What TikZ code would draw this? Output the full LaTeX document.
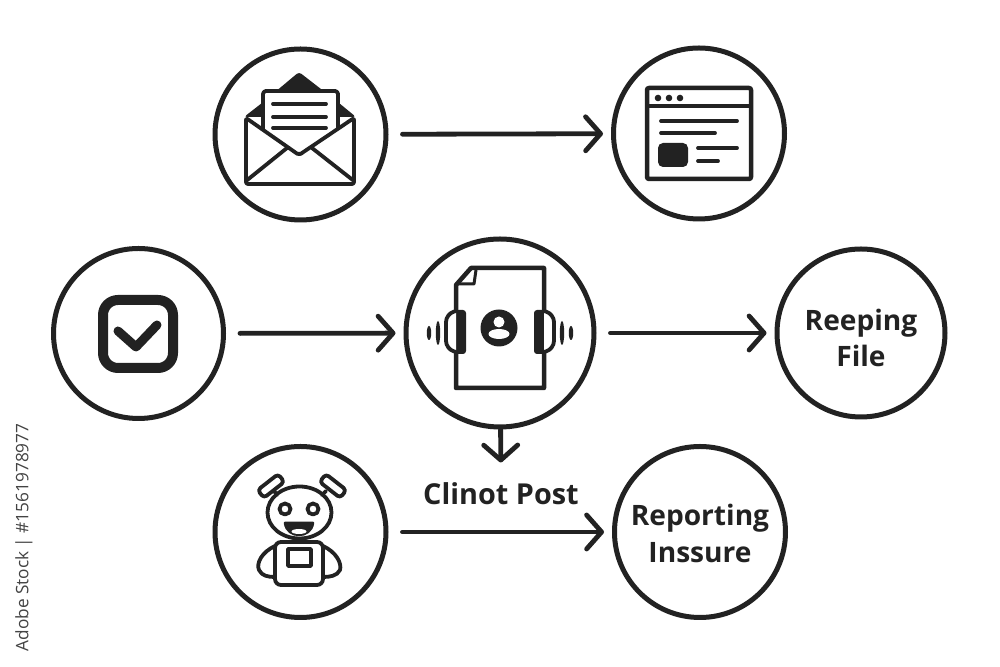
\documentclass[tikz,border=0pt]{standalone}
\usepackage{fontspec}
\setmainfont{Open Sans}
\usetikzlibrary{arrows.meta,positioning,shapes}
\definecolor{ink}{HTML}{222222}
\tikzset{
  stage/.style={circle,draw=ink,line width=0.5mm,fill=white,inner sep=0pt,text=ink,align=center,
    font=\fontsize{8}{10.4}\selectfont\bfseries},
  flow/.style={-{Straight Barb[length=1.5mm,width=3.4mm,round]},draw=ink,line width=0.48mm,line cap=round},
  thin line/.style={draw=ink,line width=0.38mm,line cap=round,line join=round}
}
\begin{document}
\begin{tikzpicture}[x=0.1mm,y=-0.1mm]
  \useasboundingbox[fill=white] (0,0) rectangle (1000,667);

  % Stages
  \node[stage,minimum size=17.1mm] (mail) at (300.5,134.5) {};
  \node[stage,minimum size=17.1mm] (page) at (699,133.5) {};
  \node[stage,minimum size=17mm] (check) at (138.5,333.5) {};
  \node[stage,minimum size=18.8mm] (file) at (500,333) {};
  \node[stage,minimum size=16.8mm] (keep) at (861,333) {\rule{0pt}{9pt}Reeping\\File};
  \node[stage,minimum size=17.1mm] (robot) at (300.5,532) {};
  \node[stage,minimum size=17.1mm] (report) at (700,532) {\rule{0pt}{6.8pt}Reporting\\Inssure};
  \node[text=ink,font=\fontsize{8.2}{10}\selectfont\bfseries] (post) at (501,494) {Clinot Post};

  % Connectors
  \draw[flow,shorten <=1.4mm,shorten >=0.8mm] (mail) -- (page);
  \draw[flow,shorten <=1.4mm,shorten >=0.8mm] (check) -- (file);
  \draw[flow,shorten <=1.4mm,shorten >=0.8mm] (file) -- (keep);
  \draw[flow,shorten <=1.4mm,shorten >=0.8mm] (robot) -- (report);
  \draw[flow,shorten >=0.8mm] (file) -- (post);

  % Envelope
  \fill[ink,rounded corners=0.3mm] (299,72) -- (339,103) -- (356,117) -- (244,117) -- (262,103) -- cycle;
  \draw[thin line,fill=white,rounded corners=0.3mm] (263,156) -- (263,91) -- (338,91) -- (338,156);
  \foreach \y in {104,117,128}
    \draw[thin line] (273,\y) -- (326,\y);
  \draw[thin line,fill=white,rounded corners=0.2mm] (246,118) -- (246,184) -- (354,184) -- (354,118) -- (299,155) -- cycle;
  \draw[thin line] (246,181) -- (287,148);
  \draw[thin line] (354,181) -- (312,148);

  % Browser window
  \draw[thin line,rounded corners=0.2mm,line width=0.45mm] (647,88) rectangle (751,179);
  \draw[thin line] (647,106) -- (751,106);
  \foreach \x in {658,669,680}
    \fill[ink] (\x,98) circle (0.33mm);
  \draw[thin line] (661,121) -- (737,121);
  \draw[thin line] (661,133) -- (715,133);
  \fill[ink,rounded corners=0.5mm] (658,143) rectangle (688,167);
  \draw[thin line] (698,148) -- (737,148);
  \draw[thin line] (698,161) -- (718,161);

  % Check box
  \draw[draw=ink,line width=1mm,rounded corners=1.5mm] (103,300) rectangle (173,368);
  \draw[draw=ink,line width=0.9mm,line cap=round,line join=round] (118,331) -- (136,347) -- (157,325);

  % Document with headphones
  \draw[thin line,line width=0.45mm] (471,268) -- (544,268) -- (544,388) -- (456,388) -- (456,285) -- cycle;
  \draw[thin line,line width=0.3mm] (458,284) -- (474,284) -- (476,270);
  \fill[ink] (499,328) circle (1.85mm);
  \fill[white] (499,322) circle (0.55mm);
  \fill[white] (499,334) ellipse (1.05mm and 0.5mm);
  \foreach \sgn in {-1,1} {
    \fill[ink,rounded corners=0.3mm] (500+\sgn*34,310) rectangle (500+\sgn*45,354);
    \draw[thin line,fill=white,rounded corners=0.8mm] (500+\sgn*44,311) -- (500+\sgn*54,314) -- (500+\sgn*54,349) -- (500+\sgn*44,352);
    \fill[ink] (500+\sgn*62,333) ellipse (0.22mm and 1.2mm);
    \fill[ink] (500+\sgn*71,333) ellipse (0.22mm and 0.7mm);
  }

  % Robot
  \draw[thin line] (299.5,512.5) ellipse (3.2mm and 2.6mm);
  \foreach \x in {285,313}
    \draw[thin line] (\x,509) circle (0.55mm);
  \draw[thin line,line width=0.25mm,fill=ink] (285,523) .. controls (287,539) and (311,539) .. (313,523) -- cycle;
  \fill[white] (299,531.5) ellipse (0.75mm and 0.25mm);
  \foreach \x/\a in {271/38,333/-38} {
    \draw[thin line,fill=white,rounded corners=0.35mm,rotate around={\a:(\x,486)}] (\x-13,481) rectangle (\x+13,491);
  }
  \draw[thin line] (277,495) -- (274,491);
  \draw[thin line] (322,495) -- (326,491);
  \draw[thin line,rounded corners=0.6mm] (275,542) rectangle (323,585);
  \draw[thin line] (288,549) rectangle (311,566);
  \draw[thin line] (275,546) .. controls (262,552) and (256,563) .. (259,570) .. controls (262,576) and (268,577) .. (275,577);
  \draw[thin line] (323,546) .. controls (336,552) and (342,563) .. (340,570) .. controls (337,576) and (330,577) .. (323,577);

  % Stock line
  \node[rotate=90,anchor=west,inner sep=0pt,text=ink!85,font=\fontsize{4.9}{7}\selectfont] (stock) at (24,652) {Adobe Stock | \#1561978977};
\end{tikzpicture}
\end{document}
